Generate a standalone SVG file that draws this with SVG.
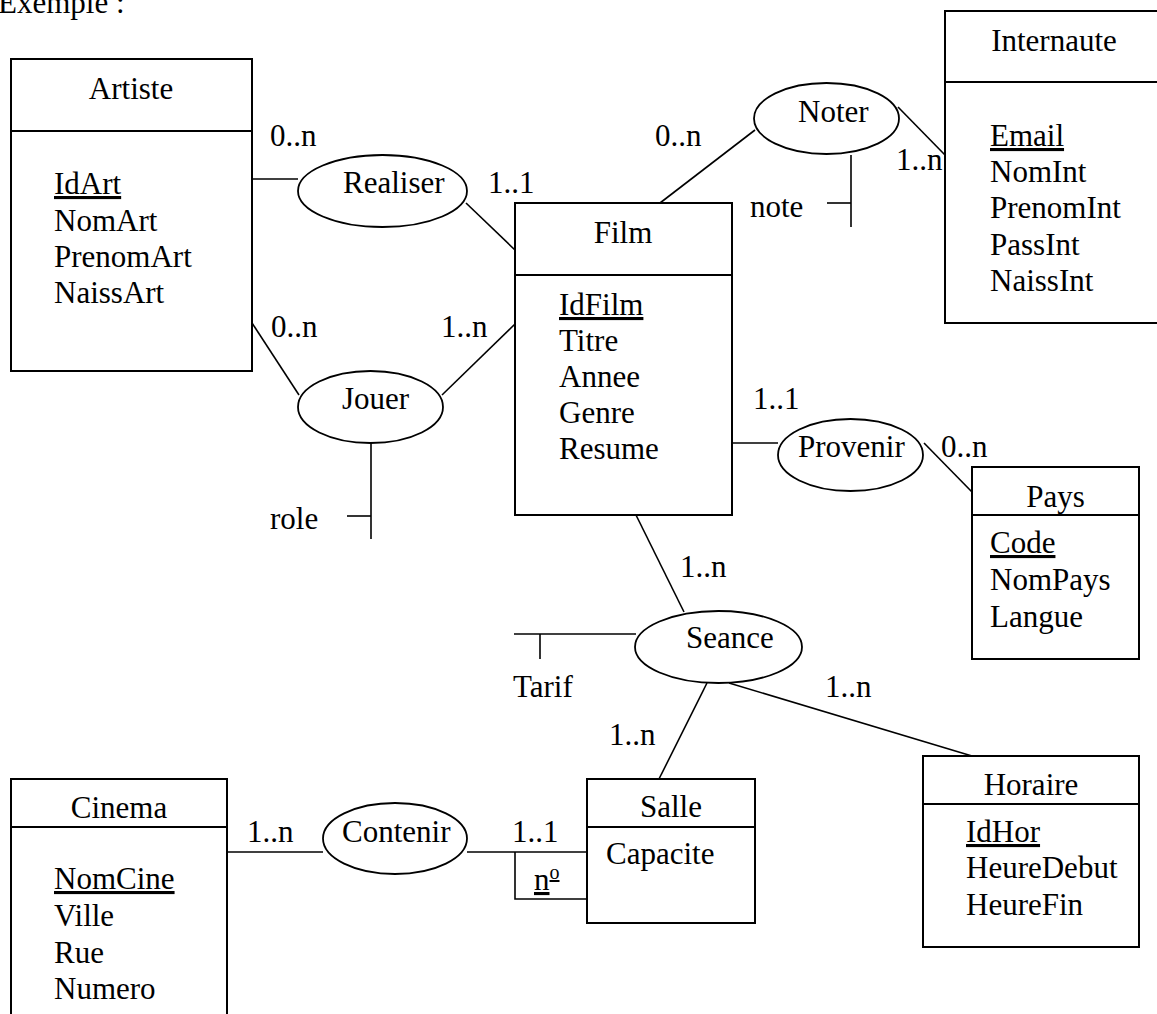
<svg xmlns="http://www.w3.org/2000/svg" width="1157" height="1014" viewBox="0 0 1157 1014">
<style>
text{font-family:"Liberation Serif","Times New Roman",serif;font-size:31px;fill:#000}
.t{text-anchor:middle}
.u{text-decoration:underline}
.box{fill:#fff;stroke:#000;stroke-width:2}
.div{stroke:#000;stroke-width:2}
.rel{fill:#fff;stroke:#000;stroke-width:1.8}
.ln{stroke:#000;stroke-width:1.6;fill:none}
</style>
<rect width="1157" height="1014" fill="#fff"/>
<text x="-2" y="13">Exemple :</text>
<g id="connectors">
<line class="ln" x1="252" y1="179" x2="298" y2="179"/>
<line class="ln" x1="466" y1="203" x2="515" y2="250"/>
<line class="ln" x1="660" y1="203" x2="755" y2="130"/>
<line class="ln" x1="898" y1="107" x2="945" y2="155"/>
<line class="ln" x1="851" y1="155" x2="851" y2="227"/>
<line class="ln" x1="827" y1="203" x2="851" y2="203"/>
<line class="ln" x1="252" y1="323" x2="299" y2="395"/>
<line class="ln" x1="442" y1="395" x2="515" y2="324"/>
<line class="ln" x1="371" y1="443" x2="371" y2="539"/>
<line class="ln" x1="347" y1="516" x2="371" y2="516"/>
<line class="ln" x1="732" y1="443" x2="778" y2="443"/>
<line class="ln" x1="924" y1="443" x2="972" y2="492"/>
<line class="ln" x1="636" y1="515" x2="684" y2="612"/>
<line class="ln" x1="514" y1="634" x2="636" y2="634"/>
<line class="ln" x1="540" y1="634" x2="540" y2="659"/>
<line class="ln" x1="707" y1="683" x2="659" y2="779"/>
<line class="ln" x1="729" y1="683" x2="972" y2="756"/>
<line class="ln" x1="227" y1="852" x2="323" y2="852"/>
<line class="ln" x1="467" y1="852" x2="587" y2="852"/>
<polyline class="ln" points="515,852 515,899 587,899"/>
</g>
<g id="labels">
<text x="270" y="146">0..n</text>
<text x="488" y="193">1..1</text>
<text x="655" y="146">0..n</text>
<text x="896" y="170">1..n</text>
<text x="750" y="217">note</text>
<text x="271" y="337">0..n</text>
<text x="441" y="337">1..n</text>
<text x="270" y="529">role</text>
<text x="753" y="409">1..1</text>
<text x="941" y="457">0..n</text>
<text x="680" y="577">1..n</text>
<text x="513" y="697">Tarif</text>
<text x="825" y="697">1..n</text>
<text x="609" y="745">1..n</text>
<text x="247" y="842">1..n</text>
<text x="512" y="842">1..1</text>
<text x="534" y="890" class="u">n<tspan dy="-11" font-size="20">o</tspan></text>
</g>
<g id="Artiste">
<rect class="box" x="11" y="59" width="241" height="312"/>
<line class="div" x1="11" y1="131" x2="252" y2="131"/>
<text class="t" x="131" y="99">Artiste</text>
<text x="54" y="194" class="u">IdArt</text>
<text x="54" y="230.5">NomArt</text>
<text x="54" y="267">PrenomArt</text>
<text x="54" y="303">NaissArt</text>
</g>
<g id="Realiser">
<ellipse class="rel" cx="382.5" cy="191" rx="84.5" ry="36"/>
<text x="343" y="193">Realiser</text>
</g>
<g id="Film">
<rect class="box" x="515" y="203" width="217" height="312"/>
<line class="div" x1="515" y1="275" x2="732" y2="275"/>
<text class="t" x="623" y="243">Film</text>
<text x="559" y="315" class="u">IdFilm</text>
<text x="559" y="351">Titre</text>
<text x="559" y="387">Annee</text>
<text x="559" y="423">Genre</text>
<text x="559" y="459">Resume</text>
</g>
<g id="Noter">
<ellipse class="rel" cx="826.5" cy="118.5" rx="72.5" ry="35.5"/>
<text x="798" y="122">Noter</text>
</g>
<g id="Internaute">
<rect class="box" x="945" y="11" width="218" height="312"/>
<line class="div" x1="945" y1="82" x2="1163" y2="82"/>
<text class="t" x="1054" y="51">Internaute</text>
<text x="990" y="146" class="u">Email</text>
<text x="990" y="182">NomInt</text>
<text x="990" y="218">PrenomInt</text>
<text x="990" y="255">PassInt</text>
<text x="990" y="291">NaissInt</text>
</g>
<g id="Jouer">
<ellipse class="rel" cx="370.5" cy="407" rx="72.5" ry="36"/>
<text x="342" y="409">Jouer</text>
</g>
<g id="Provenir">
<ellipse class="rel" cx="850.5" cy="455" rx="72.5" ry="36"/>
<text x="798" y="457">Provenir</text>
</g>
<g id="Pays">
<rect class="box" x="972" y="467" width="167" height="192"/>
<line class="div" x1="972" y1="515" x2="1139" y2="515"/>
<text class="t" x="1055.5" y="507">Pays</text>
<text x="990" y="553" class="u">Code</text>
<text x="990" y="590">NomPays</text>
<text x="990" y="627">Langue</text>
</g>
<g id="Seance">
<ellipse class="rel" cx="718.5" cy="647" rx="83.5" ry="36"/>
<text x="686" y="648">Seance</text>
</g>
<g id="Cinema">
<rect class="box" x="11" y="779" width="216" height="260"/>
<line class="div" x1="11" y1="827" x2="227" y2="827"/>
<text class="t" x="119" y="818">Cinema</text>
<text x="54" y="889" class="u">NomCine</text>
<text x="54" y="926">Ville</text>
<text x="54" y="963">Rue</text>
<text x="54" y="999">Numero</text>
</g>
<g id="Contenir">
<ellipse class="rel" cx="395" cy="838.5" rx="72" ry="35.5"/>
<text x="342" y="842">Contenir</text>
</g>
<g id="Salle">
<rect class="box" x="587" y="779" width="168" height="144"/>
<line class="div" x1="587" y1="827" x2="755" y2="827"/>
<text class="t" x="671" y="817">Salle</text>
<text x="606" y="864">Capacite</text>
</g>
<g id="Horaire">
<rect class="box" x="923" y="756" width="216" height="191"/>
<line class="div" x1="923" y1="804" x2="1139" y2="804"/>
<text class="t" x="1031" y="795">Horaire</text>
<text x="966" y="842" class="u">IdHor</text>
<text x="966" y="878">HeureDebut</text>
<text x="966" y="915">HeureFin</text>
</g>
</svg>
